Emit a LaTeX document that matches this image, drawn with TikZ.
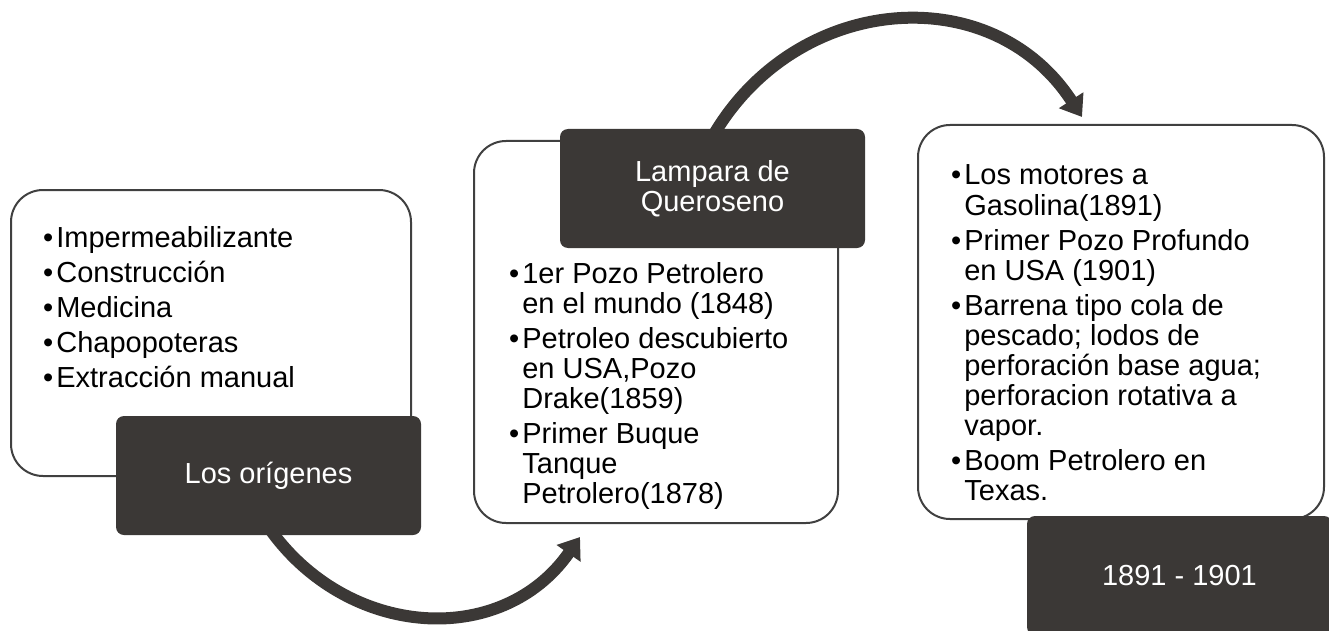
\documentclass[tikz,border=0pt]{standalone}
\usepackage{fontspec}
\setmainfont{Liberation Sans}
\usetikzlibrary{arrows.meta,backgrounds}

\definecolor{tagfill}{RGB}{59,56,54}
\definecolor{cardline}{RGB}{64,64,64}

\begin{document}
\begin{tikzpicture}[x=1pt,y=1pt,
    card/.style={draw=cardline,line width=2pt,fill=white,rounded corners=32pt,anchor=north west,inner sep=0pt},
    darktag/.style={fill=tagfill,text=white,rounded corners=8pt,minimum width=305pt,minimum height=119pt,align=center,font=\fontsize{29}{30}\selectfont},
    items/.style={anchor=base west,inner sep=0pt,font=\fontsize{29}{30}\selectfont},
    flowarrow/.style={draw=tagfill,line width=12pt,-{Triangle[length=20pt,width=28pt]}}]
  \useasboundingbox (0,0) rectangle (1329,-631);

  % white cards
  \node[card,minimum width=400pt,minimum height=286pt] (orig-card) at (10,-189) {};
  \node[card,minimum width=364pt,minimum height=382pt] (lamp-card) at (473,-140) {};
  \node[card,minimum width=406pt,minimum height=394pt] (era-card) at (917,-124) {};

  % bullet lists
  \node[items] (orig-list) at (43,-247) {\begin{tabular}[t]{@{}l@{\hspace{3pt}}l@{}}
      •&Impermeabilizante\\[5pt]
      •&Construcción\\[5pt]
      •&Medicina\\[5pt]
      •&Chapopoteras\\[5pt]
      •&Extracción manual
    \end{tabular}};
  \node[items] (lamp-list) at (509,-283) {\begin{tabular}[t]{@{}l@{\hspace{3pt}}l@{}}
      •&1er Pozo Petrolero\\
       &en el mundo (1848)\\[5pt]
      •&Petroleo descubierto\\
       &en USA,Pozo\\
       &Drake(1859)\\[5pt]
      •&Primer Buque\\
       &Tanque\\
       &Petrolero(1878)
    \end{tabular}};
  \node[items] (era-list) at (951,-185) {\begin{tabular}[t]{@{}l@{\hspace{3pt}}l@{}}
      •&Los motores a\\
       &Gasolina(1891)\\[5pt]
      •&Primer Pozo Profundo\\
       &en USA (1901)\\[5pt]
      •&Barrena tipo cola de\\
       &pescado; lodos de\\
       &perforación base agua;\\
       &perforacion rotativa a\\
       &vapor.\\[5pt]
      •&Boom Petrolero en\\
       &Texas.
    \end{tabular}};

  % dark tags
  \node[darktag] (orig) at (268.5,-475.5) {Los orígenes};
  \node[darktag] (lamp) at (712.5,-188.5) {Lampara de\\Queroseno};
  \node[darktag] (era) at (1179.5,-575.5) {1891 - 1901};

  % curved arrows, behind the boxes
  \coordinate (a1end) at (580,-537);
  \coordinate (a2end) at (1082,-117);
  \begin{pgfonlayer}{background}
    \draw[flowarrow] ([yshift=8pt]orig.south) to[out=-55,in=-125,looseness=1.12] (a1end);
    \draw[flowarrow] ([yshift=-8pt]lamp.north) to[out=60,in=123,looseness=1.15] (a2end);
  \end{pgfonlayer}
\end{tikzpicture}
\end{document}
